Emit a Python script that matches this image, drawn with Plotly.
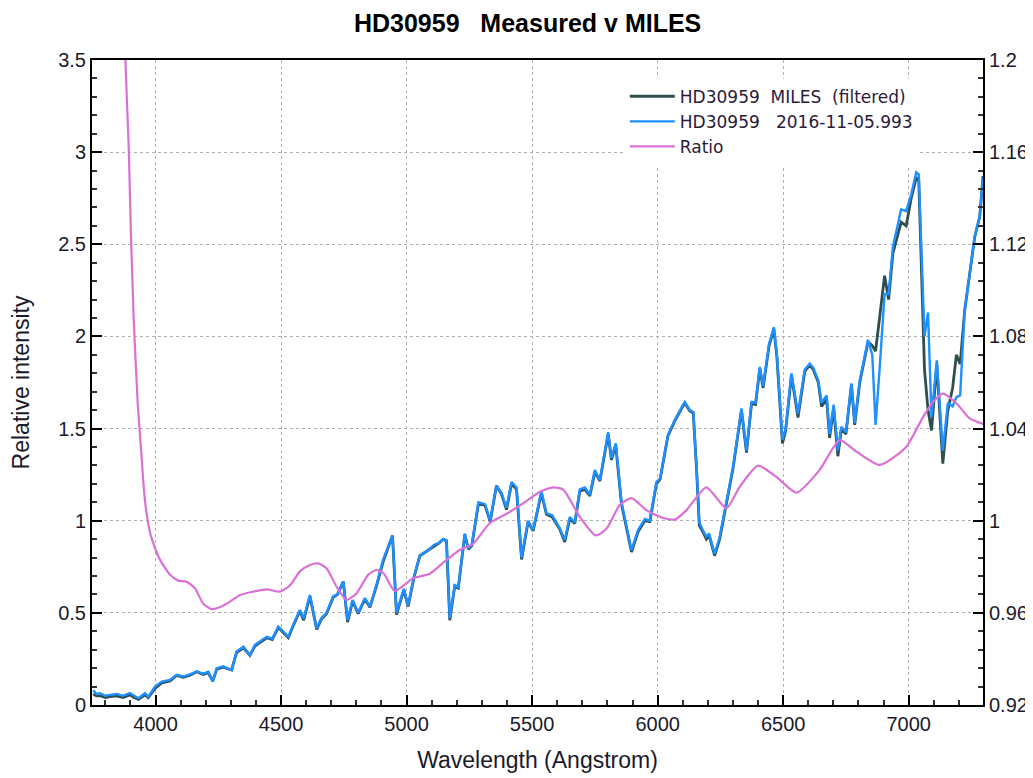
import plotly.graph_objects as go

# ---- data ----
wl_meas = [3752, 3765, 3779, 3800, 3819, 3846, 3870, 3898, 3915, 3932, 3958, 3971, 3998,
           4025, 4058, 4084, 4111, 4135, 4164, 4190, 4210, 4228, 4244, 4270, 4303, 4323,
           4350, 4376, 4396, 4423, 4443, 4465, 4489, 4508, 4529, 4550, 4575, 4590, 4615,
           4642, 4660, 4681, 4708, 4725, 4748, 4765, 4785, 4807, 4834, 4854, 4880, 4907,
           4944, 4960, 4989, 5006, 5030, 5053, 5086, 5110, 5130, 5146, 5159, 5172, 5192,
           5206, 5232, 5246, 5260, 5286, 5312, 5333, 5358, 5378, 5398, 5418, 5438, 5458,
           5484, 5504, 5537, 5557, 5580, 5610, 5630, 5650, 5670, 5690, 5710, 5730, 5750,
           5770, 5803, 5816, 5833, 5856, 5896, 5922, 5949, 5969, 5995, 6010, 6041, 6068,
           6088, 6108, 6128, 6142, 6155, 6166, 6180, 6194, 6205, 6227, 6247, 6274, 6300,
           6334, 6354, 6374, 6390, 6407, 6420, 6444, 6463, 6475, 6497, 6510, 6533, 6559,
           6586, 6606, 6620, 6640, 6653, 6673, 6685, 6701, 6718, 6732, 6750, 6772, 6785,
           6805, 6838, 6855, 6868, 6884, 6904, 6920, 6937, 6970, 6990, 7010, 7030, 7040,
           7050, 7063, 7077, 7091, 7112, 7136, 7156, 7175, 7190, 7205, 7223, 7243, 7263,
           7283, 7296]
measured = [0.08, 0.06, 0.064, 0.05, 0.055, 0.06, 0.05, 0.065, 0.05, 0.037, 0.064, 0.045, 0.10,
            0.127, 0.136, 0.164, 0.155, 0.165, 0.182, 0.17, 0.18, 0.127, 0.20, 0.21, 0.19, 0.29,
            0.317, 0.27, 0.326, 0.35, 0.37, 0.36, 0.425, 0.40, 0.37, 0.44, 0.516, 0.47, 0.597,
            0.417, 0.47, 0.50, 0.59, 0.60, 0.67, 0.46, 0.57, 0.50, 0.58, 0.534, 0.65, 0.79,
            0.92, 0.50, 0.63, 0.54, 0.70, 0.81, 0.84, 0.87, 0.88, 0.90, 0.895, 0.47, 0.65,
            0.64, 0.93, 0.85, 0.87, 1.10, 1.09, 1.00, 1.19, 1.15, 1.07, 1.21, 1.18, 0.80,
            1.00, 0.95, 1.16, 1.04, 1.03, 0.96, 0.895, 1.02, 0.99, 1.17, 1.18, 1.14, 1.275,
            1.22, 1.48, 1.34, 1.42, 1.10, 0.84, 0.95, 1.01, 1.00, 1.21, 1.23, 1.465, 1.546,
            1.60, 1.645, 1.60, 1.59, 1.29, 0.99, 0.95, 0.913, 0.93, 0.82, 0.91, 1.11, 1.29,
            1.61, 1.38, 1.645, 1.64, 1.835, 1.73, 1.96, 2.05, 1.90, 1.44, 1.50, 1.80, 1.58,
            1.82, 1.853, 1.83, 1.76, 1.64, 1.68, 1.47, 1.63, 1.38, 1.51, 1.48, 1.745, 1.53,
            1.76, 1.98, 1.90, 1.52, 1.82, 2.23, 2.23, 2.485, 2.69, 2.68, 2.77, 2.89, 2.88,
            2.47, 2.00, 2.13, 1.56, 1.87, 1.38, 1.64, 1.62, 1.67, 1.68, 2.14, 2.34, 2.54,
            2.65, 2.86]
miles = [0.06, 0.05, 0.05, 0.04, 0.045, 0.05, 0.04, 0.055, 0.04, 0.03, 0.055, 0.04, 0.09,
         0.12, 0.13, 0.16, 0.15, 0.16, 0.18, 0.165, 0.175, 0.13, 0.195, 0.205, 0.19, 0.285,
         0.31, 0.27, 0.32, 0.345, 0.365, 0.355, 0.42, 0.395, 0.365, 0.435, 0.51, 0.46, 0.59,
         0.41, 0.465, 0.495, 0.585, 0.60, 0.67, 0.45, 0.565, 0.495, 0.575, 0.53, 0.645, 0.78,
         0.92, 0.49, 0.625, 0.535, 0.695, 0.81, 0.84, 0.865, 0.88, 0.90, 0.89, 0.46, 0.645,
         0.635, 0.925, 0.845, 0.865, 1.09, 1.085, 0.995, 1.19, 1.145, 1.06, 1.20, 1.17, 0.79,
         0.995, 0.945, 1.15, 1.035, 1.02, 0.955, 0.885, 1.01, 0.985, 1.16, 1.17, 1.135, 1.265,
         1.215, 1.47, 1.33, 1.41, 1.09, 0.83, 0.94, 1.00, 0.995, 1.20, 1.225, 1.46, 1.54,
         1.59, 1.64, 1.595, 1.585, 1.28, 0.975, 0.94, 0.90, 0.92, 0.81, 0.90, 1.10, 1.28,
         1.60, 1.37, 1.635, 1.63, 1.825, 1.72, 1.95, 2.04, 1.89, 1.42, 1.49, 1.79, 1.56,
         1.81, 1.845, 1.82, 1.75, 1.62, 1.66, 1.45, 1.61, 1.35, 1.50, 1.47, 1.74, 1.52,
         1.75, 1.97, 1.95, 1.92, 2.10, 2.33, 2.20, 2.45, 2.62, 2.60, 2.75, 2.86, 2.85,
         2.40, 1.82, 1.60, 1.49, 1.85, 1.31, 1.60, 1.72, 1.90, 1.85, 2.14, 2.34, 2.54,
         2.65, 2.87]

wl_ratio = [3880, 3893, 3902, 3913, 3929, 3943, 3955, 3966, 3980, 3995, 4018, 4058, 4090,
            4124, 4157, 4190, 4224, 4257, 4297, 4337, 4389, 4443, 4496, 4536, 4575, 4615,
            4648, 4681, 4721, 4761, 4801, 4847, 4880, 4910, 4953, 5026, 5093, 5159, 5212,
            5265, 5332, 5398, 5464, 5531, 5584, 5624, 5690, 5753, 5796, 5849, 5896, 5955,
            6022, 6070, 6115, 6194, 6274, 6327, 6400, 6473, 6553, 6645, 6725, 6792, 6885,
            6990, 7057, 7100, 7136, 7190, 7243, 7296]
ratio = [1.200, 1.163, 1.125, 1.088, 1.051, 1.030, 1.012, 1.002, 0.994, 0.989, 0.983, 0.9765,
         0.974, 0.9735, 0.9707, 0.9640, 0.9616, 0.9625, 0.9649, 0.9678, 0.9692, 0.9702,
         0.9692, 0.972, 0.978, 0.9808, 0.9815, 0.9794, 0.9714, 0.9656, 0.9685, 0.9765,
         0.9786, 0.977, 0.9695, 0.975, 0.977, 0.983, 0.9873, 0.990, 0.999, 1.003, 1.0075,
         1.0126, 1.0145, 1.0135, 1.0017, 0.9936, 0.9965, 1.0068, 1.0098, 1.0046, 1.0012,
         1.0006, 1.0046, 1.0145, 1.0054, 1.0147, 1.0239, 1.019, 1.0122, 1.022, 1.035, 1.030,
         1.0242, 1.032, 1.045, 1.052, 1.0552, 1.051, 1.0444, 1.042]

x_tickvals = [4000, 4500, 5000, 5500, 6000, 6500, 7000]
x_ticktext = ["4000", "4500", "5000", "5500", "6000", "6500", "7000"]
y_tickvals = [0, 0.5, 1, 1.5, 2, 2.5, 3, 3.5]
y_ticktext = ["0", "0.5", "1", "1.5", "2", "2.5", "3", "3.5"]
y2_tickvals = [0.92, 0.96, 1.0, 1.04, 1.08, 1.12, 1.16, 1.2]
y2_ticktext = ["0.92", "0.96", "1", "1.04", "1.08", "1.12", "1.16", "1.2"]

FONT = "Liberation Sans, Arial, sans-serif"
TXT = "#1a1a2a"

fig = go.Figure()
fig.add_trace(go.Scatter(x=wl_meas, y=miles, mode="lines", name="HD30959  MILES  (filtered)",
                         line=dict(color="#2F4F4F", width=2.8)))
fig.add_trace(go.Scatter(x=wl_meas, y=measured, mode="lines", name="HD30959   2016-11-05.993",
                         line=dict(color="#1E90FF", width=2.4)))
fig.add_trace(go.Scatter(x=wl_ratio, y=ratio, mode="lines", name="Ratio", yaxis="y2",
                         line=dict(color="#DA70D6", width=2.2, shape="spline", smoothing=0.6)))

grid = dict(showgrid=True, gridcolor="#B0B0B0", griddash="dot", gridwidth=1)
fig.update_layout(
    width=1033, height=778,
    # the page body adds an 8px offset; margins compensate so the plot area sits at 92..983 x 60..705
    margin=dict(l=84, r=58, t=52, b=81),
    paper_bgcolor="white", plot_bgcolor="white",
    font=dict(family=FONT, size=20, color=TXT),
    title=dict(text="<b>HD30959   Measured v MILES</b>", x=0.503, xanchor="center", y=0.98,
               yanchor="middle",
               font=dict(family=FONT, size=25, color="black")),
    xaxis=dict(range=[3747, 7296], tickvals=x_tickvals, ticktext=x_ticktext,
               ticks="inside", ticklen=10, tickwidth=2, tickcolor="black",
               minor=dict(ticks="inside", dtick=100, ticklen=5, tickcolor="#333", showgrid=False),
               showline=True, linecolor="black", linewidth=2, mirror=True, zeroline=False,
               title=dict(text="Wavelength (Angstrom)", font=dict(size=23, color=TXT), standoff=18),
               tickfont=dict(size=20, color=TXT), **grid),
    yaxis=dict(range=[0, 3.5], tickvals=y_tickvals, ticktext=y_ticktext,
               ticks="inside", ticklen=10, tickwidth=2, tickcolor="black",
               minor=dict(ticks="inside", dtick=0.1, ticklen=5, tickcolor="#333", showgrid=False),
               showline=True, linecolor="black", linewidth=2, zeroline=False,
               title=dict(text="Relative intensity", font=dict(size=23, color=TXT), standoff=22),
               tickfont=dict(size=20, color=TXT), **grid),
    yaxis2=dict(range=[0.92, 1.2], overlaying="y", side="right", tickvals=y2_tickvals,
                ticktext=y2_ticktext, ticks="inside", ticklen=10, tickwidth=2, tickcolor="black",
                minor=dict(ticks="inside", dtick=0.008, ticklen=5, tickcolor="#333", showgrid=False),
                showline=True, linecolor="black", linewidth=2, showgrid=False, zeroline=False,
                tickfont=dict(size=20, color=TXT)),
    legend=dict(x=0.598, y=0.971, xanchor="left", yanchor="top", bgcolor="white",
                font=dict(family="DejaVu Sans, sans-serif", size=17, color="#2a1a3a"),
                tracegroupgap=0, itemwidth=45),
    showlegend=True,
)

fig.write_html("out.html")
